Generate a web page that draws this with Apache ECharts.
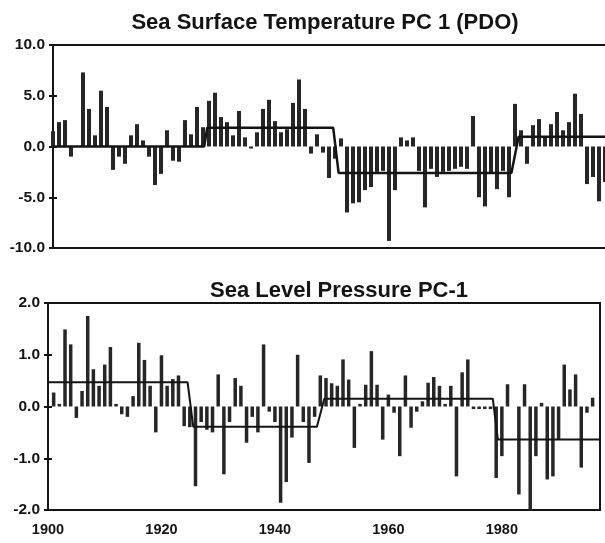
<!DOCTYPE html>
<html>
<head>
<meta charset="utf-8">
<script src="https://cdn.jsdelivr.net/npm/echarts@6/dist/echarts.min.js"></script>
<style>
html,body{margin:0;padding:0;background:#fff;}
#chart{width:605px;height:543px;}
</style>
</head>
<body>
<div id="chart"></div>
<script>
// ---- Data ----
const sstTitle = 'Sea Surface Temperature PC 1 (PDO)';
const slpTitle = 'Sea Level Pressure PC-1';

const sstYears = [1900,1901,1902,1903,1905,1906,1907,1908,1909,1910,1911,1912,1913,1914,1915,1916,1917,1918,1919,1920,
  1921,1922,1923,1924,1925,1926,1927,1928,1929,1930,1931,1932,1933,1934,1935,1936,1937,1938,1939,1940,
  1941,1942,1943,1944,1945,1946,1947,1948,1949,1950,1951,1952,1953,1954,1955,1956,1957,1958,1959,1960,
  1961,1962,1963,1964,1965,1966,1967,1968,1969,1970,1971,1972,1973,1974,1975,1976,1977,1978,1979,1980,
  1981,1982,1983,1984,1985,1986,1987,1988,1989,1990,1991,1992];
const sstValues = [1.5,2.4,2.6,-1.0,7.3,3.7,1.1,5.5,3.9,-2.3,-1.0,-1.7,1.1,2.2,0.6,-1.0,-3.8,-2.7,1.6,-1.4,
  -1.5,2.6,1.2,3.9,1.9,4.5,5.3,2.9,2.4,1.1,3.5,0.9,-0.2,1.4,3.7,4.6,2.5,1.4,1.7,4.3,
  6.6,3.7,-0.7,1.2,-0.6,-3.1,-1.2,0.8,-6.5,-5.6,-5.5,-4.3,-4.0,-2.5,-2.4,-9.3,-4.3,0.9,0.6,0.9,
  -2.4,-6.0,-2.2,-3.0,-2.5,-2.4,-2.2,-2.0,-2.2,3.0,-5.0,-5.9,-2.7,-4.2,-2.4,-5.0,4.2,1.6,-1.7,2.1,
  2.7,1.0,2.2,3.4,1.6,2.4,5.2,3.2,-3.7,-3.0,-5.4,-3.5];
// regime means (step line) for SST PC1
const sstRegimeX = [1900, 1925.2, 1925.7, 1946.7, 1947.6, 1976.4, 1977.6, 1997];
const sstRegimeY = [0.0, 0.0, 1.85, 1.85, -2.6, -2.6, 0.95, 0.95];

const slpYears = [1901,1902,1903,1904,1905,1906,1907,1908,1909,1910,1911,1912,1913,1914,1915,1916,1917,1918,1919,1920,
  1921,1922,1923,1924,1925,1926,1927,1928,1929,1930,1931,1932,1933,1934,1935,1936,1937,1938,1939,1940,
  1941,1942,1943,1944,1945,1946,1947,1948,1949,1950,1951,1952,1953,1954,1955,1956,1957,1958,1959,1960,
  1961,1962,1963,1964,1965,1966,1967,1968,1969,1970,1971,1972,1973,1974,1975,1976,1977,1978,1979,1980,
  1981,1983,1984,1985,1986,1987,1988,1989,1990,1991,1992,1993,1994,1995,1996];
const slpValues = [0.27,0.05,1.49,1.2,-0.22,0.3,1.75,0.72,0.4,0.81,1.15,0.05,-0.15,-0.2,0.2,1.23,0.9,0.4,-0.5,0.99,
  0.4,0.53,0.6,-0.38,-0.4,-1.54,-0.3,-0.45,-0.5,0.62,-1.31,-0.3,0.55,0.4,-0.7,-0.2,-0.5,1.2,-0.1,-0.3,
  -1.86,-1.46,-0.6,1.0,-0.3,-1.09,-0.2,0.6,0.55,0.45,0.4,0.91,0.52,-0.8,0.05,0.42,1.07,0.42,-0.64,0.23,
  -0.12,-0.96,0.6,-0.41,-0.1,0.1,0.46,0.57,0.4,0.05,0.4,-1.35,0.66,0.91,-0.05,-0.05,-0.05,-0.05,-1.38,-0.96,
  0.43,-1.7,0.43,-2.02,-0.96,0.07,-1.41,-1.35,-0.64,0.81,0.33,0.62,-1.18,-0.12,0.17];
// regime means (step line) for SLP PC1
const slpRegimeX = [1900, 1924.6, 1925.6, 1947.4, 1948.7, 1978.4, 1979.3, 1997.3];
const slpRegimeY = [0.47, 0.47, -0.39, -0.39, 0.15, 0.15, -0.64, -0.64];

const sstTicks = {min: -10, max: 10, interval: 5};
const slpTicks = {min: -2, max: 2, interval: 1};
const yearTicks = {min: 1900, interval: 20};

// ---- Build chart ----
const pairs = (xs, ys) => xs.map((x, i) => [x, ys[i]]);
const ink = '#141414';
const fontFamily = '"Liberation Sans", Arial, sans-serif';
const yLabelStyle = {color: ink, fontWeight: 'bold', fontSize: 15.5, fontFamily};
const xLabelStyle = {color: ink, fontWeight: 'bold', fontSize: 14.5, fontFamily};

function yAxes(grid, t, dec) {
  return [
    {gridIndex: grid, type: 'value', position: 'left', min: t.min, max: t.max, interval: t.interval,
     axisLine: {show: true, lineStyle: {color: ink, width: 2}},
     axisTick: {show: true, length: 4, lineStyle: {color: ink, width: 2}},
     axisLabel: Object.assign({margin: 8, formatter: v => v.toFixed(dec)}, yLabelStyle),
     splitLine: {show: false}},
    {gridIndex: grid, type: 'value', position: 'left', offset: 0, min: t.min, max: t.max, interval: t.interval,
     axisLine: {show: false},
     axisTick: {show: true, inside: true, length: 4, lineStyle: {color: ink, width: 2}},
     axisLabel: {show: false}, splitLine: {show: false}}
  ];
}

const option = {
  animation: false,
  backgroundColor: '#fff',
  title: [
    {text: sstTitle, left: 320, top: 7, textAlign: 'center',
     textStyle: {color: ink, fontWeight: 'bold', fontSize: 22, fontFamily}},
    {text: slpTitle, left: 334, top: 275, textAlign: 'center',
     textStyle: {color: ink, fontWeight: 'bold', fontSize: 22, fontFamily}}
  ],
  grid: [
    {left: 53, top: 45, width: 582, height: 203, show: true, borderColor: ink, borderWidth: 2,
     backgroundColor: 'transparent', outerBoundsMode: 'none', containLabel: false},
    {left: 48, top: 303, width: 552, height: 207, show: true, borderColor: ink, borderWidth: 2,
     backgroundColor: 'transparent', outerBoundsMode: 'none', containLabel: false}
  ],
  xAxis: [
    {gridIndex: 0, type: 'value', min: yearTicks.min, max: 1997, interval: yearTicks.interval,
     axisLine: {show: false}, axisTick: {show: false}, axisLabel: {show: false}, splitLine: {show: false}},
    {gridIndex: 1, type: 'value', min: yearTicks.min, max: 1997.3, interval: yearTicks.interval,
     axisLine: {show: false}, axisTick: {show: false}, splitLine: {show: false},
     axisLabel: Object.assign({margin: 12, formatter: v => (v % 20 === 0 ? String(v) : '')}, xLabelStyle)}
  ],
  yAxis: yAxes(0, sstTicks, 1).concat(yAxes(1, slpTicks, 1)),
  series: [
    {type: 'bar', xAxisIndex: 0, yAxisIndex: 0, barWidth: 4, data: pairs(sstYears, sstValues),
     itemStyle: {color: '#262626'}, z: 2},
    {type: 'line', xAxisIndex: 0, yAxisIndex: 0, data: pairs(sstRegimeX, sstRegimeY),
     showSymbol: false, lineStyle: {color: ink, width: 2.5}, z: 5},
    {type: 'bar', xAxisIndex: 1, yAxisIndex: 2, barWidth: 3.5, data: pairs(slpYears, slpValues),
     itemStyle: {color: '#262626'}, z: 2},
    {type: 'line', xAxisIndex: 1, yAxisIndex: 2, data: pairs(slpRegimeX, slpRegimeY),
     showSymbol: false, lineStyle: {color: ink, width: 2}, z: 5}
  ]
};

const chart = echarts.init(document.getElementById('chart'), null, {renderer: 'canvas'});
chart.setOption(option);
</script>
</body>
</html>
